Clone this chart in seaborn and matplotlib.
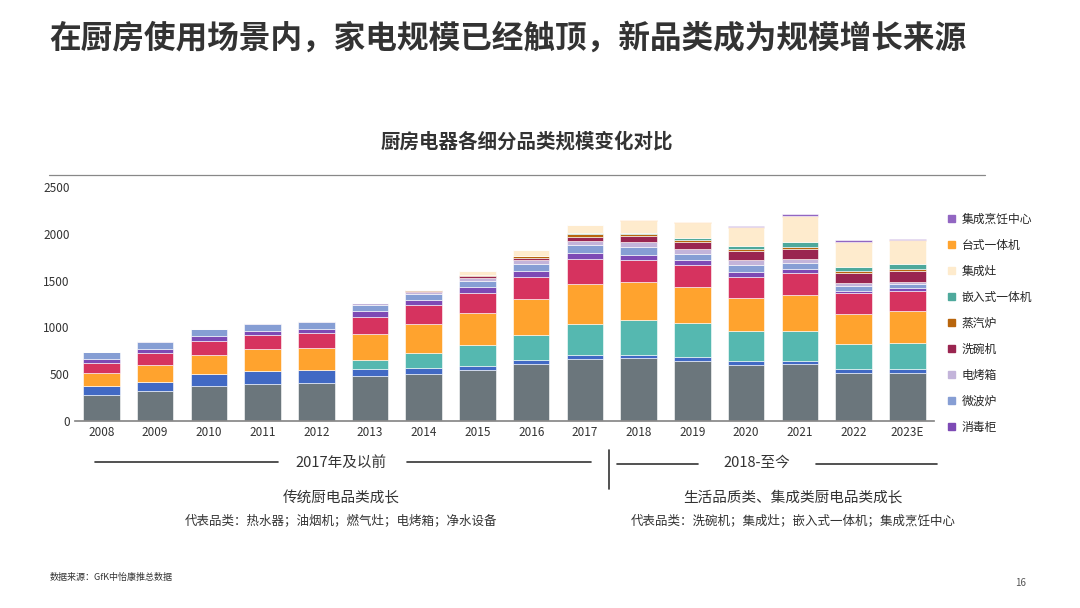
import numpy as np
import seaborn as sns
import matplotlib.pyplot as plt
from matplotlib.patches import Patch
from matplotlib.lines import Line2D

sns.set_theme(style="white")
plt.rcParams['font.family'] = ['Noto Sans CJK SC', 'DejaVu Sans']

years = ["2008", "2009", "2010", "2011", "2012", "2013", "2014", "2015",
         "2016", "2017", "2018", "2019", "2020", "2021", "2022", "2023E"]

# stacked layers, bottom to top
gray = [278, 320, 378, 399, 409, 484, 506, 545, 609, 666, 677, 644, 601, 606, 516, 513]
blue = [96, 100, 128, 138, 139, 68, 63, 46, 43, 42, 31, 43, 43, 38, 39, 42]
teal_big = [0, 0, 0, 0, 0, 100, 157, 224, 270, 328, 374, 363, 314, 318, 264, 282]
orange_big = [139, 181, 203, 233, 235, 281, 310, 342, 385, 428, 400, 382, 356, 381, 324, 341]
red = [103, 121, 146, 149, 157, 181, 199, 213, 235, 263, 241, 235, 228, 239, 221, 211]
sterilizer = [49, 49, 49, 46, 46, 57, 54, 57, 64, 64, 50, 53, 50, 46, 29, 32]
microwave = [69, 72, 74, 71, 72, 64, 64, 67, 71, 86, 82, 68, 71, 64, 49, 46]
oven = [3, 7, 5, 7, 5, 28, 28, 36, 39, 49, 53, 46, 60, 43, 36, 22]
dishwasher = [0, 0, 0, 0, 0, 0, 8, 19, 25, 43, 64, 78, 97, 107, 107, 114]
steamer = [0, 0, 0, 0, 0, 0, 5, 7, 25, 29, 22, 22, 18, 17, 18, 18]
built_in = [0, 0, 0, 0, 0, 0, 4, 0, 0, 14, 18, 21, 36, 49, 42, 53]
integrated_stove = [0, 0, 0, 0, 0, 0, 0, 46, 61, 83, 128, 160, 185, 268, 257, 246]
countertop = [0, 0, 0, 0, 0, 0, 0, 0, 0, 0, 11, 11, 14, 18, 14, 14]
cooking_center = [0, 0, 0, 0, 0, 0, 0, 0, 0, 0, 0, 0, 14, 18, 14, 14]

layers = [
    (None, gray, "#6b767c"),
    (None, blue, "#4169c4"),
    (None, teal_big, "#55b8b0"),
    (None, orange_big, "#ffa32e"),
    (None, red, "#d6335f"),
    ("消毒柜", sterilizer, "#7d4ab5"),
    ("微波炉", microwave, "#869ed4"),
    ("电烤箱", oven, "#c3b4da"),
    ("洗碗机", dishwasher, "#9a2550"),
    ("蒸汽炉", steamer, "#b8650c"),
    ("嵌入式一体机", built_in, "#4ea99c"),
    ("集成灶", integrated_stove, "#feebcd"),
    ("台式一体机", countertop, "#ffa32e"),
    ("集成烹饪中心", cooking_center, "#9266c2"),
]

fig = plt.figure(figsize=(10.8, 6.08), dpi=100)
ax = fig.add_axes([0.069, 0.3076, 0.796, 0.385])

bottom = np.zeros(len(years))
for name, vals, color in layers:
    sns.barplot(x=years, y=vals, bottom=bottom, color=color, width=0.68,
                saturation=1, edgecolor="white", linewidth=0.4, ax=ax)
    bottom += np.array(vals)

ax.set_ylim(0, 2500)
ax.set_xlim(-0.5, len(years) - 0.5)
ax.set_yticks(range(0, 2501, 500))
ax.tick_params(axis="both", labelsize=8.5, colors="#333333", length=0)
ax.set_xticks(np.arange(-0.5, len(years), 1), minor=True)
ax.tick_params(axis="x", which="major", length=0)
ax.tick_params(axis="x", which="minor", length=4, color="#666666")
for s in ["top", "right", "left"]:
    ax.spines[s].set_visible(False)
ax.spines["bottom"].set_color("#888888")

handles = [Patch(color=c, label=n) for n, v, c in layers if n][::-1]
ax.legend(handles=handles, loc="upper left", bbox_to_anchor=(1.0, 0.95),
          frameon=False, fontsize=8.5, handlelength=0.6, handleheight=0.6,
          labelspacing=1.1, handletextpad=0.5, borderaxespad=0.8)

fig.text(0.046, 0.922, "在厨房使用场景内，家电规模已经触顶，新品类成为规模增长来源",
         fontsize=22.8, fontweight="bold", color="#333333")
fig.text(0.488, 0.758, "厨房电器各细分品类规模变化对比", fontsize=14,
         fontweight="bold", color="#333333", ha="center")
fig.add_artist(Line2D([0.045, 0.912], [0.712, 0.712], color="#888888", lw=0.9))

# period annotations
fig.add_artist(Line2D([0.088, 0.257], [0.24, 0.24], color="#333333", lw=1.2))
fig.add_artist(Line2D([0.377, 0.547], [0.24, 0.24], color="#333333", lw=1.2))
fig.add_artist(Line2D([0.571, 0.646], [0.237, 0.237], color="#333333", lw=1.2))
fig.add_artist(Line2D([0.756, 0.868], [0.237, 0.237], color="#333333", lw=1.2))
fig.add_artist(Line2D([0.564, 0.564], [0.195, 0.26], color="#333333", lw=1.2))
fig.text(0.316, 0.238, "2017年及以前", fontsize=10.5, color="#333333", ha="center", va="center")
fig.text(0.701, 0.238, "2018-至今", fontsize=10.5, color="#333333", ha="center", va="center")
fig.text(0.316, 0.181, "传统厨电品类成长", fontsize=10.5, color="#333333", ha="center", va="center")
fig.text(0.316, 0.143, "代表品类：热水器；油烟机；燃气灶；电烤箱；净水设备", fontsize=9,
         color="#333333", ha="center", va="center")
fig.text(0.734, 0.181, "生活品质类、集成类厨电品类成长", fontsize=10.5, color="#333333",
         ha="center", va="center")
fig.text(0.734, 0.143, "代表品类：洗碗机；集成灶；嵌入式一体机；集成烹饪中心", fontsize=9,
         color="#333333", ha="center", va="center")
fig.text(0.046, 0.046, "数据来源：GfK中怡康推总数据", fontsize=6.5, color="#333333")
fig.text(0.95, 0.036, "16", fontsize=7, color="#555555", ha="right")

fig.savefig("out.png", dpi=100)
